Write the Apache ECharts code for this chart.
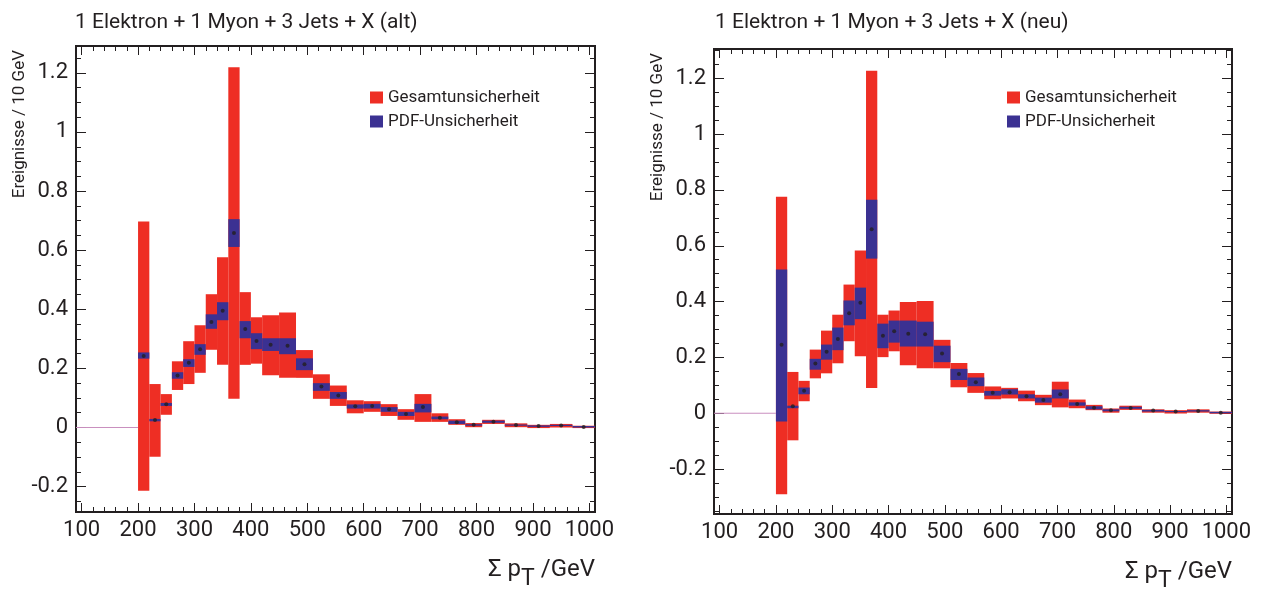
<!DOCTYPE html>
<html>
<head>
<meta charset="utf-8">
<script src="https://cdn.jsdelivr.net/npm/echarts@6/dist/echarts.min.js"></script>
<style>
html, body { margin: 0; padding: 0; background: #fff; }
#main { width: 1261px; height: 589px; }
</style>
</head>
<body>
<div id="main"></div>
<script>
// Bins (GeV)
var binLow  = [200, 220, 240, 260, 280, 300, 320, 340, 360, 380, 400, 420, 450, 480, 510, 540, 570, 600, 630, 660, 690, 720, 750, 780, 810, 850, 890, 930, 970];
var binHigh = [220, 240, 260, 280, 300, 320, 340, 360, 380, 400, 420, 450, 480, 510, 540, 570, 600, 630, 660, 690, 720, 750, 780, 810, 850, 890, 930, 970, 1010];
// empty bins below 200 GeV drawn as a line at 0
var emptyRange = [90, 200];

// 1 Elektron + 1 Myon + 3 Jets + X (alt)
var altValue     = [0.242, 0.025, 0.079, 0.176, 0.219, 0.265, 0.357, 0.395, 0.658, 0.333, 0.293, 0.280, 0.277, 0.214, 0.139, 0.108, 0.072, 0.073, 0.062, 0.046, 0.069, 0.033, 0.018, 0.009, 0.019, 0.008, 0.005, 0.007, 0.002];
var altTotalLow  = [-0.214, -0.099, 0.043, 0.127, 0.147, 0.185, 0.263, 0.212, 0.097, 0.212, 0.216, 0.177, 0.168, 0.168, 0.097, 0.073, 0.048, 0.053, 0.039, 0.026, 0.019, 0.019, 0.009, 0.001, 0.012, 0.001, -0.002, 0.000, -0.002];
var altTotalHigh = [0.697, 0.147, 0.113, 0.224, 0.292, 0.346, 0.451, 0.576, 1.219, 0.458, 0.373, 0.380, 0.389, 0.262, 0.180, 0.142, 0.092, 0.089, 0.079, 0.062, 0.113, 0.048, 0.028, 0.015, 0.026, 0.014, 0.009, 0.012, 0.006];
var altPdfLow    = [0.233, 0.021, 0.073, 0.165, 0.205, 0.246, 0.334, 0.363, 0.611, 0.302, 0.265, 0.259, 0.248, 0.194, 0.124, 0.097, 0.064, 0.064, 0.053, 0.039, 0.051, 0.028, 0.012, 0.006, 0.016, 0.006, 0.002, 0.005, 0.000];
var altPdfHigh   = [0.254, 0.029, 0.083, 0.187, 0.231, 0.282, 0.383, 0.424, 0.705, 0.360, 0.319, 0.302, 0.302, 0.234, 0.150, 0.120, 0.078, 0.080, 0.069, 0.053, 0.080, 0.037, 0.023, 0.011, 0.023, 0.010, 0.007, 0.009, 0.005];

// 1 Elektron + 1 Myon + 3 Jets + X (neu)
var neuValue     = [0.245, 0.025, 0.081, 0.178, 0.220, 0.266, 0.358, 0.396, 0.659, 0.278, 0.294, 0.285, 0.283, 0.214, 0.141, 0.111, 0.073, 0.075, 0.061, 0.047, 0.068, 0.033, 0.020, 0.011, 0.019, 0.010, 0.006, 0.008, 0.002];
var neuTotalLow  = [-0.290, -0.097, 0.043, 0.125, 0.143, 0.179, 0.258, 0.204, 0.090, 0.201, 0.222, 0.172, 0.161, 0.161, 0.093, 0.073, 0.050, 0.053, 0.043, 0.029, 0.021, 0.018, 0.011, 0.002, 0.012, 0.002, -0.001, 0.002, -0.002];
var neuTotalHigh = [0.776, 0.148, 0.116, 0.228, 0.296, 0.353, 0.461, 0.583, 1.227, 0.353, 0.368, 0.399, 0.402, 0.263, 0.180, 0.144, 0.096, 0.091, 0.081, 0.066, 0.113, 0.049, 0.030, 0.017, 0.027, 0.014, 0.011, 0.014, 0.006];
var neuPdfLow    = [-0.030, 0.018, 0.068, 0.156, 0.192, 0.226, 0.315, 0.337, 0.554, 0.233, 0.253, 0.239, 0.239, 0.183, 0.119, 0.097, 0.063, 0.067, 0.053, 0.038, 0.053, 0.027, 0.014, 0.007, 0.016, 0.006, 0.004, 0.006, 0.000];
var neuPdfHigh   = [0.515, 0.027, 0.092, 0.195, 0.246, 0.307, 0.404, 0.450, 0.765, 0.321, 0.332, 0.332, 0.328, 0.242, 0.159, 0.128, 0.080, 0.086, 0.068, 0.056, 0.085, 0.039, 0.025, 0.014, 0.023, 0.012, 0.008, 0.011, 0.005];

// tick labels
var xTicks = [100, 200, 300, 400, 500, 600, 700, 800, 900, 1000];
var yTicks = [-0.2, 0, 0.2, 0.4, 0.6, 0.8, 1, 1.2];
var xMinorStep = 20;
var yMinorStep = 0.05;

var ink = '#231f20';
var red = '#ee2e24';
var blue = '#3b3192';
var pink = '#c98fbf';
var font = 'Roboto';

var xMinorTicks = [];
for (var v = 100; v <= 1000; v += xMinorStep) xMinorTicks.push(v);

function yMinor(min, max) {
    var arr = [];
    for (var k = Math.ceil(min / yMinorStep); k * yMinorStep <= max; k++) {
        arr.push(Math.round(k * yMinorStep * 1000) / 1000);
    }
    return arr;
}

var plain = function(v) { return String(v); };

var box = function(params, api) {
    var p0 = api.coord([api.value(0), api.value(2)]);
    var p1 = api.coord([api.value(1), api.value(3)]);
    return {
        type: 'rect',
        shape: { x: p0[0], y: p1[1], width: p1[0] - p0[0], height: p0[1] - p1[1] },
        style: { fill: api.visual('color') }
    };
};

function boxData(lo, hi) {
    return binLow.map(function(b, i) { return [b, binHigh[i], lo[i], hi[i]]; });
}
function pointData(val) {
    return binLow.map(function(b, i) { return [(b + binHigh[i]) / 2, val[i]]; });
}

function makeX(g, xMin, xMax, withName) {
    var base = {
        gridIndex: g, type: 'value', min: xMin, max: xMax,
        splitLine: { show: false },
        axisLine: { show: true, onZero: false, lineStyle: { color: ink, width: 2 } }
    };
    return [
        Object.assign({}, base, {
            position: 'bottom',
            axisTick: { inside: true, length: 9, customValues: xTicks, lineStyle: { color: ink, width: 1 } },
            axisLabel: { customValues: xTicks, formatter: plain, margin: 7, color: ink, fontSize: 22, fontFamily: font },
            name: withName ? '{a|Σ p}{t|T}{a| /GeV}' : '',
            nameLocation: 'end',
            nameGap: 0,
            nameMoveOverlap: false,
            nameTextStyle: {
                align: 'right', verticalAlign: 'top', padding: [36, 0, 0, 0],
                color: ink, fontFamily: font,
                rich: {
                    a: { fontSize: 24, color: ink, fontFamily: font },
                    t: { fontSize: 23, color: ink, fontFamily: font, padding: [20, 0, 0, 0] }
                }
            }
        }),
        Object.assign({}, base, {
            position: 'bottom',
            axisTick: { inside: true, length: 5, customValues: xMinorTicks, lineStyle: { color: ink, width: 1 } },
            axisLabel: { show: false }
        }),
        Object.assign({}, base, {
            position: 'top',
            axisTick: { inside: true, length: 9, customValues: xTicks, lineStyle: { color: ink, width: 1 } },
            axisLabel: { show: false }
        }),
        Object.assign({}, base, {
            position: 'top',
            axisTick: { inside: true, length: 5, customValues: xMinorTicks, lineStyle: { color: ink, width: 1 } },
            axisLabel: { show: false }
        })
    ];
}

function makeY(g, yMin, yMax) {
    var base = {
        gridIndex: g, type: 'value', min: yMin, max: yMax,
        splitLine: { show: false },
        axisLine: { show: true, onZero: false, lineStyle: { color: ink, width: 2 } }
    };
    var minor = yMinor(yMin, yMax);
    return [
        Object.assign({}, base, {
            position: 'left',
            axisTick: { inside: true, length: 10, customValues: yTicks, lineStyle: { color: ink, width: 1 } },
            axisLabel: { customValues: yTicks, formatter: plain, margin: 8, color: ink, fontSize: 22, fontFamily: font },
            name: 'Ereignisse / 10 GeV',
            nameLocation: 'end',
            nameRotate: 90,
            nameGap: -4,
            nameMoveOverlap: false,
            nameTextStyle: {
                align: 'right', verticalAlign: 'bottom', padding: [0, 0, 48, 0],
                color: ink, fontSize: 17, fontFamily: font
            }
        }),
        Object.assign({}, base, {
            position: 'left',
            axisTick: { inside: true, length: 5, customValues: minor, lineStyle: { color: ink, width: 1 } },
            axisLabel: { show: false }
        }),
        Object.assign({}, base, {
            position: 'right',
            axisTick: { inside: true, length: 10, customValues: yTicks, lineStyle: { color: ink, width: 1 } },
            axisLabel: { show: false }
        }),
        Object.assign({}, base, {
            position: 'right',
            axisTick: { inside: true, length: 5, customValues: minor, lineStyle: { color: ink, width: 1 } },
            axisLabel: { show: false }
        })
    ];
}

function makeSeries(axisIndex, totLo, totHi, pdfLo, pdfHi, val, xMin) {
    return [
        {
            type: 'line', xAxisIndex: axisIndex, yAxisIndex: axisIndex,
            data: [[Math.max(xMin, emptyRange[0]), 0], [emptyRange[1], 0]],
            symbol: 'none', silent: true,
            lineStyle: { color: pink, width: 1 }
        },
        {
            name: 'Gesamtunsicherheit', type: 'custom', xAxisIndex: axisIndex, yAxisIndex: axisIndex,
            renderItem: box, itemStyle: { color: red },
            encode: { x: [0, 1], y: [2, 3] },
            data: boxData(totLo, totHi)
        },
        {
            name: 'PDF-Unsicherheit', type: 'custom', xAxisIndex: axisIndex, yAxisIndex: axisIndex,
            renderItem: box, itemStyle: { color: blue },
            encode: { x: [0, 1], y: [2, 3] },
            data: boxData(pdfLo, pdfHi)
        },
        {
            type: 'scatter', xAxisIndex: axisIndex, yAxisIndex: axisIndex,
            symbolSize: 4, itemStyle: { color: ink },
            data: pointData(val)
        }
    ];
}

var xMin = 90, xMax = 1010;
var altYMin = -0.286, altYMax = 1.291;
var neuYMin = -0.361, neuYMax = 1.305;

var legendBase = {
    orient: 'vertical', icon: 'rect', itemWidth: 13, itemHeight: 12, itemGap: 7,
    data: ['Gesamtunsicherheit', 'PDF-Unsicherheit'],
    textStyle: { color: ink, fontSize: 17, fontFamily: font }
};

var myChart = echarts.init(document.getElementById('main'));
var option = {
    animation: false,
    backgroundColor: '#fff',
    title: [
        { text: '1 Elektron + 1 Myon + 3 Jets + X (alt)', left: 70, top: 7,
          textStyle: { color: ink, fontSize: 21, fontWeight: 'normal', fontFamily: font } },
        { text: '1 Elektron + 1 Myon + 3 Jets + X (neu)', left: 710, top: 7,
          textStyle: { color: ink, fontSize: 21, fontWeight: 'normal', fontFamily: font } }
    ],
    legend: [
        Object.assign({}, legendBase, { left: 365, top: 84 }),
        Object.assign({}, legendBase, { left: 1002, top: 84 })
    ],
    grid: [
        { left: 76, top: 46, width: 519, height: 466, outerBoundsMode: 'none', containLabel: false },
        { left: 714, top: 49, width: 518, height: 465, outerBoundsMode: 'none', containLabel: false }
    ],
    xAxis: makeX(0, xMin, xMax, true).concat(makeX(1, xMin, xMax, true)),
    yAxis: makeY(0, altYMin, altYMax).concat(makeY(1, neuYMin, neuYMax)),
    series: makeSeries(0, altTotalLow, altTotalHigh, altPdfLow, altPdfHigh, altValue, xMin)
        .concat(makeSeries(4, neuTotalLow, neuTotalHigh, neuPdfLow, neuPdfHigh, neuValue, xMin))
};
myChart.setOption(option);
</script>
</body>
</html>
